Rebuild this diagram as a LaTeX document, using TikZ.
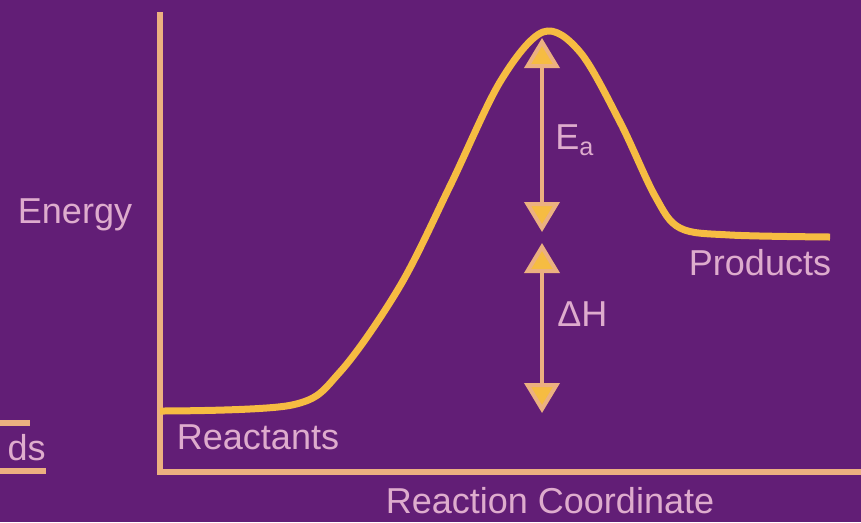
\documentclass[tikz,border=0pt]{standalone}
\usepackage{fontspec}
\setmainfont{Liberation Sans}
\usetikzlibrary{arrows.meta}

\definecolor{bgpurple}{RGB}{98,30,118}
\definecolor{curvegold}{RGB}{246,188,66}
\definecolor{axispeach}{RGB}{236,176,128}
\definecolor{labelpink}{RGB}{222,172,205}

\begin{document}
\begin{tikzpicture}[
    x=0.02cm, y=-0.02cm,
    lbl/.style={text=labelpink, font=\fontsize{20.5}{24}\selectfont, inner sep=0pt},
    axis/.style={draw=axispeach, line width=0.11cm},
    curve/.style={draw=curvegold, line width=0.14cm, line join=round},
    gap/.style={draw=axispeach, line width=0.08cm,
      {Triangle[width=0.7cm,length=0.6cm,fill=curvegold]}-{Triangle[width=0.7cm,length=0.6cm,fill=curvegold]}}
  ]
  % Background
  \fill[bgpurple] (0,0) rectangle (861,522);
  \useasboundingbox (0,0) rectangle (861,522);

  % Axes
  \coordinate (ytop) at (160,12);
  \coordinate (orig) at (160,472);
  \coordinate (xend) at (861,472);
  \draw[axis] (ytop) -- (orig) -- (xend);
  \node[lbl] (energy) at (75,215) {Energy};
  \node[lbl] (coord) at (550,501) {Reaction Coordinate};

  % Piece of the previous panel
  \draw[axis] (0,423) -- (30,423);
  \draw[axis] (0,471) -- (46,471);
  \node[lbl, anchor=east] (cut) at (46,448) {ds};

  % Energy curve
  \draw[curve] plot[smooth, tension=0.55] coordinates {
    (160,411) (292,405) (340,372) (400,286) (450,186) (500,82)
    (543,32) (580,52) (620,122) (655,196) (680,228) (730,235) (830,237)};
  \node[lbl] (react) at (258,437) {Reactants};
  \node[lbl] (prod) at (760,263) {Products};

  % Energy gaps
  \coordinate (peak) at (542,38);
  \coordinate (plevel) at (542,232);
  \coordinate (plevel2) at (542,243);
  \coordinate (rlevel) at (542,413);
  \draw[gap] (peak) -- (plevel);
  \draw[gap] (plevel2) -- (rlevel);
  \node[lbl, anchor=west] (ea) at (555,140) {E\textsubscript{a}};
  \node[lbl, anchor=west] (dh) at (557,314) {ΔH};
\end{tikzpicture}
\end{document}
